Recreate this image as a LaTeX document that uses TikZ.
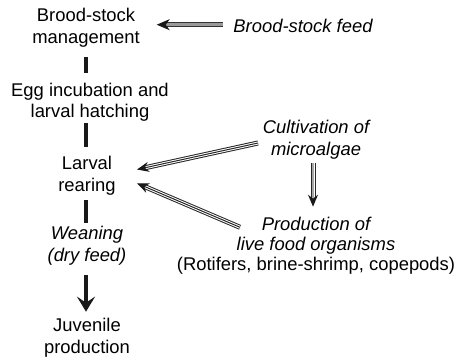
\documentclass[tikz,border=0pt]{standalone}
\usepackage{fontspec}
\setmainfont{Liberation Sans}
\usetikzlibrary{arrows.meta,calc}
\tikzset{
  txt/.style={inner sep=0pt, outer sep=0pt, align=center, anchor=base, font=\fontsize{18.4}{21.6}\selectfont},
  itx/.style={txt, font=\fontsize{18.4}{21.6}\selectfont\itshape},
  bar/.style={line width=4pt, draw=black!90},
  boldarrow/.style={line width=4pt, draw=black!90, -{Stealth[length=15pt,width=18pt,inset=6pt]}},
  grayarrow/.style={
    preaction={draw=black!80, line width=5pt, arrows=-, shorten >=9pt},
    preaction={draw=black!40, line width=3pt, arrows=-, shorten >=9pt},
    draw=black!40, line width=1pt, -{Stealth[length=13pt,width=11pt,inset=4pt,color=black!90]}},
  triplearrow/.style={
    preaction={draw=black!85, line width=5pt, arrows=-, shorten >=8pt},
    preaction={draw=white, line width=3pt, arrows=-, shorten >=8pt},
    draw=black!85, line width=1pt, -{Stealth[length=12pt,width=10pt,inset=4pt,color=black!90]}},
  midgrayarrow/.style={
    preaction={draw=black!85, line width=5pt, arrows=-, shorten >=8pt},
    preaction={draw=white, line width=3pt, arrows=-, shorten >=8pt},
    draw=gray!70, line width=1.2pt, -{Stealth[length=12pt,width=10pt,inset=4pt,color=black!90]}},
}
\begin{document}
\begin{tikzpicture}[x=1pt,y=-1pt]
\useasboundingbox (0,0) rectangle (463,361);
\node[txt] (bm) at (86,43.3) {Brood-stock\\management};
\node[txt] (egg) at (90,117.7) {Egg incubation and\\larval hatching};
\node[txt] (lr) at (87,191.5) {Larval\\rearing};
\node[itx] (wean) at (87,261) {Weaning\\(dry feed)};
\node[txt] (juv) at (87,353) {Juvenile\\production};
\node[itx] (feed) at (303,32.3) {Brood-stock feed};
\node[itx] (cult) at (316,155.5) {Cultivation of\\microalgae};
\node[txt, font=\fontsize{18.4}{19.8}\selectfont] (prod) at (316,270)
  {{\itshape Production of}\\{\itshape live food organisms}\\(Rotifers, brine-shrimp, copepods)};

\draw[bar] ($(bm.base)+(0,13.7)$) -- ($(egg.base)+(-4,-44.7)$);
\draw[bar] ($(egg.base)+(-4,5.3)$) -- ($(lr.base)+(-1,-44.5)$);
\draw[bar] ($(lr.base)+(-1,8.5)$) -- ($(wean.base)+(-1,-38)$);
\draw[boldarrow] ($(wean.base)+(-1,14)$) -- ($(juv.base)+(-1,-41.3)$);

\draw[grayarrow] ($(feed.base)+(-80,-7.6)$) -- ($(bm.base)+(70.7,-18.6)$);
\draw[triplearrow] ($(cult.base)+(-58,-12.5)$) -- ($(lr.base)+(50,-22)$);
\draw[triplearrow] ($(prod.base)+(-76,-42.7)$) -- ($(lr.base)+(50,-8.2)$);
\draw[midgrayarrow] ($(cult.base)+(-3,7.8)$) -- ($(prod.base)+(-3,-63.3)$);
\end{tikzpicture}
\end{document}
